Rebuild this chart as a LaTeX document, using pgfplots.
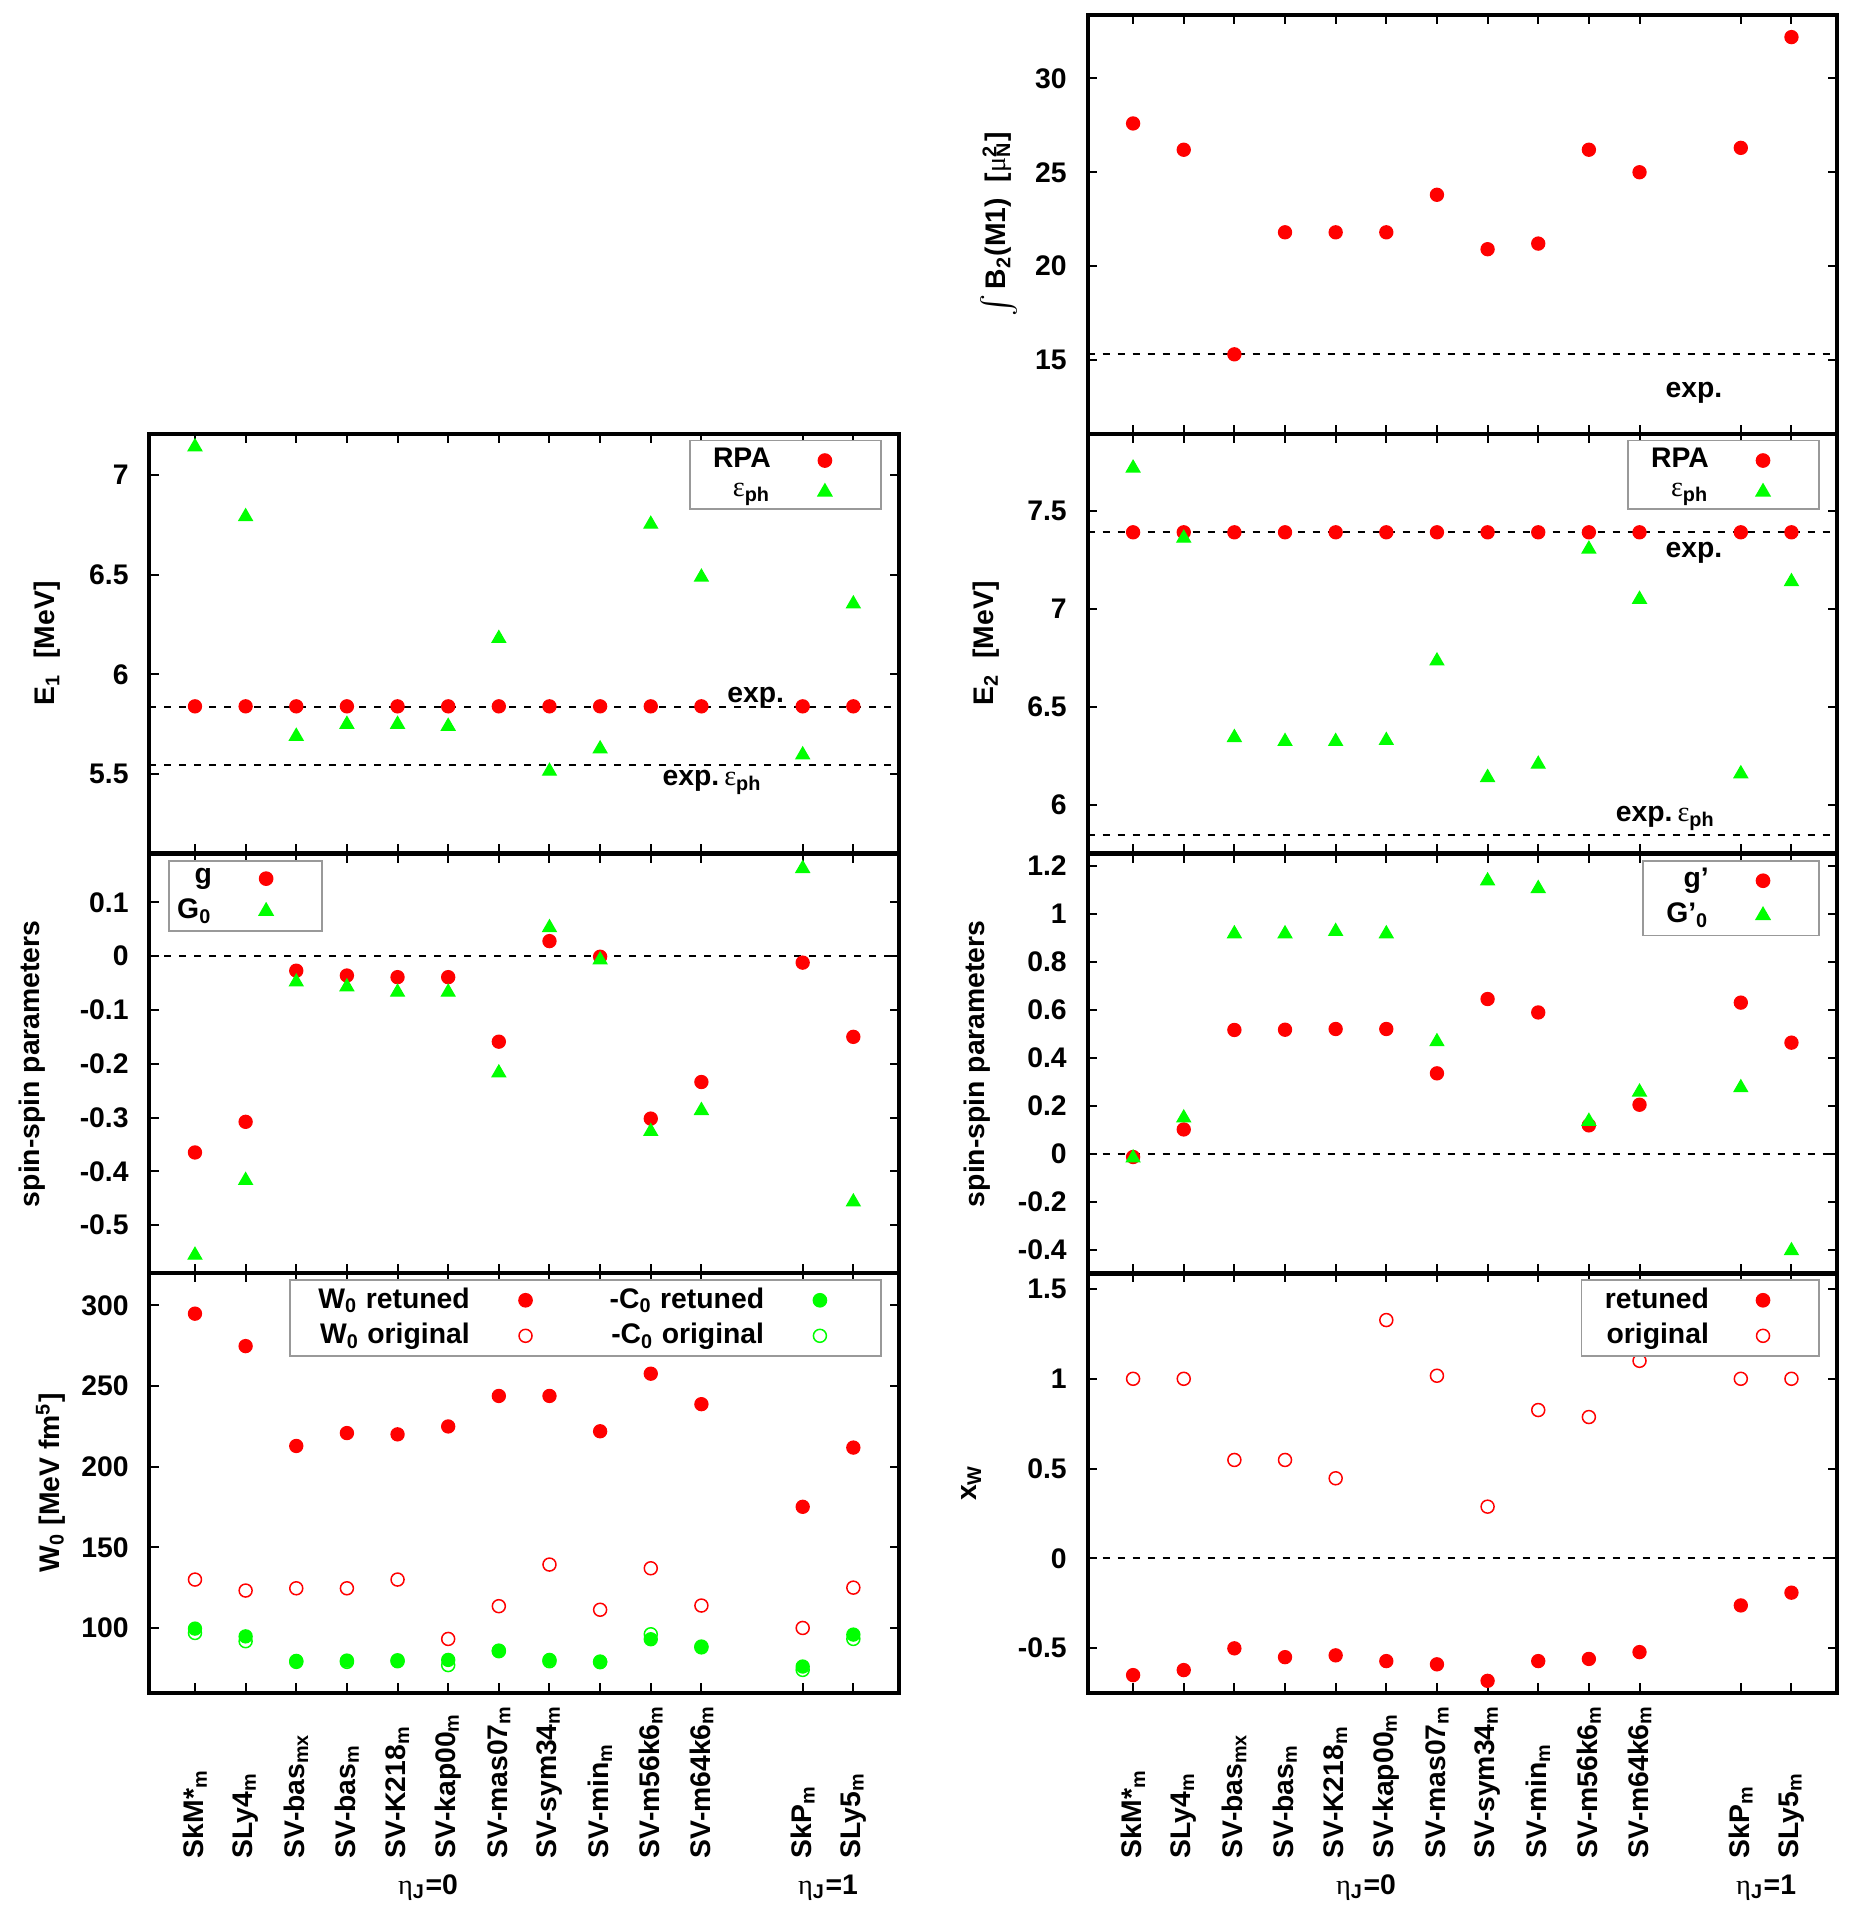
\documentclass[border=0pt]{standalone}
\usepackage{pgfplots}
\pgfplotsset{compat=1.18}
\usepackage{fontspec}
\setmainfont{Liberation Sans}
\newfontfamily\grk{Liberation Serif}
\definecolor{rr}{RGB}{255,0,0}
\definecolor{gg}{RGB}{0,255,0}
\newcommand\fs{\fontsize{8.5}{10}\selectfont\bfseries}
\newcommand\tl[2]{\mbox{#1\textsubscript{#2}}}
\newcommand\eps{{\grk\mdseries ε}\textsubscript{ph}}
\tikzset{lbl/.style={anchor=base west, font=\fs, inner sep=0pt}}
\pgfplotsset{
  panel/.style={
    scale only axis, width=224.85pt, height=125.85pt,
    anchor=north west,
    xmin=0.1, xmax=14.9,
    xtick={1,2,3,4,5,6,7,8,9,10,11,13,14},
    xticklabels={},
    tick align=inside,
    major tick length=2.8pt,
    axis line style={line width=1.2pt},
    tick style={black, line width=0.6pt},
    yticklabel pos=left, xticklabel pos=lower,
    ytick pos=both, xtick pos=both,
    tick label style={font=\fs},
    yticklabel style={xshift=-2.7pt},
    /pgf/number format/assume math mode=true,
    clip=false,
    legend plot pos=right,
    legend cell align=right,
    legend style={draw=gray!80, line width=0.5pt, font=\fs, inner xsep=5pt, inner ysep=0.3pt, row sep=-1pt,
      /tikz/every odd column/.append style={column sep=5.5pt}},
  },
  ylab/.style={every axis y label/.style={at={(axis description cs:#1,0.5)}, rotate=90, anchor=center, font=\fs}},
  bottom/.style={
    xticklabels={\tl{SkM*}{m},\tl{SLy4}{m},\tl{SV-bas}{mx},\tl{SV-bas}{m},\tl{SV-K218}{m},\tl{SV-kap00}{m},\tl{SV-mas07}{m},\tl{SV-sym34}{m},\tl{SV-min}{m},\tl{SV-m56k6}{m},\tl{SV-m64k6}{m},\tl{SkP}{m},\tl{SLy5}{m}},
    xticklabel style={rotate=90, anchor=east, text width=49.5pt, align=left, inner sep=0pt},
  },
  mkleg/.style={legend image code/.code={\draw[##1] plot coordinates {(8.5pt,0pt)}; \path (0pt,0pt) (20pt,0pt);}},
  mklegw/.style={legend image code/.code={\draw[##1] plot coordinates {(8.5pt,0pt)}; \path (0pt,0pt) (24.5pt,0pt);}},
  rpa/.style={only marks, mark=*, mark size=1.95pt, color=rr, mkleg},
  tri/.style={only marks, mark=triangle*, mark size=2.3pt, color=gg, mkleg},
  gfill/.style={only marks, mark=*, mark size=1.95pt, color=gg, mkleg},
  ropen/.style={only marks, mark=o, mark size=1.95pt, color=rr, mark options={line width=0.45pt}, mkleg},
  gopen/.style={only marks, mark=o, mark size=1.95pt, color=gg, mark options={line width=0.45pt}, mkleg},
  expl/.style={black, line width=0.6pt, dash pattern=on 2.1pt off 2.4pt, forget plot},
  legNE/.style={legend style={at={(axis description cs:1,1)}, anchor=north east, xshift=-5.2pt, yshift=-1.8pt}},
}
\begin{document}
\begin{tikzpicture}
\path[use as bounding box] (0pt,0pt) rectangle (557.7pt,-571.5pt);

% ---------- B2 (top right)
\begin{axis}[panel, at={(326.25pt,-4.38pt)}, ymin=11.05, ymax=33.4, ytick={15,20,25,30},
  ylab=-0.118, ylabel={$\int$\,B\textsubscript{2}(M1)\ \ [{\grk\mdseries μ}\rlap{\textsuperscript{2}}\textsubscript{N}]}]
\addplot[rpa] coordinates {(1,27.6)(2,26.2)(3,15.3)(4,21.8)(5,21.8)(6,21.8)(7,23.8)(8,20.9)(9,21.2)(10,26.2)(11,25.0)(13,26.3)(14,32.2)};
\addplot[expl] coordinates {(0.1,15.33)(14.9,15.33)};
\node[lbl] at (axis cs:11.5,13.0) {exp.};
\end{axis}

% ---------- E1 (left)
\begin{axis}[panel, legNE, at={(44.82pt,-130.14pt)}, ymin=5.104, ymax=7.205, ytick={5.5,6,6.5,7},
  ylab=-0.136, ylabel={E\textsubscript{1}\ \ [MeV]}]
\addplot[rpa] coordinates {(1,5.84)(2,5.84)(3,5.84)(4,5.84)(5,5.84)(6,5.84)(7,5.84)(8,5.84)(9,5.84)(10,5.84)(11,5.84)(13,5.84)(14,5.84)};
\addlegendentry{RPA}
\addplot[tri] coordinates {(1,7.14)(2,6.79)(3,5.69)(4,5.75)(5,5.75)(6,5.74)(7,6.18)(8,5.515)(9,5.627)(10,6.752)(11,6.487)(13,5.597)(14,6.353)};
\addlegendentry{\eps}
\addplot[expl] coordinates {(0.1,5.838)(14.9,5.838)};
\addplot[expl] coordinates {(0.1,5.548)(14.9,5.548)};
\node[lbl] at (axis cs:11.5,5.86) {exp.};
\node[lbl] at (axis cs:10.22,5.443) {exp.\hspace{1.5pt}\eps};
\end{axis}

% ---------- E2 (right)
\begin{axis}[panel, legNE, at={(326.25pt,-130.14pt)}, ymin=5.751, ymax=7.893, ytick={6,6.5,7,7.5},
  ylab=-0.1357, ylabel={E\textsubscript{2}\ \ [MeV]}]
\addplot[rpa] coordinates {(1,7.39)(2,7.39)(3,7.39)(4,7.39)(5,7.39)(6,7.39)(7,7.39)(8,7.39)(9,7.39)(10,7.39)(11,7.39)(13,7.39)(14,7.39)};
\addlegendentry{RPA}
\addplot[tri] coordinates {(1,7.718)(2,7.36)(3,6.342)(4,6.322)(5,6.322)(6,6.327)(7,6.733)(8,6.138)(9,6.206)(10,7.304)(11,7.048)(13,6.157)(14,7.138)};
\addlegendentry{\eps}
\addplot[expl] coordinates {(0.1,7.39)(14.9,7.39)};
\addplot[expl] coordinates {(0.1,5.845)(14.9,5.845)};
\node[lbl] at (axis cs:11.5,7.262) {exp.};
\node[lbl] at (axis cs:10.52,5.913) {exp.\hspace{1.5pt}\eps};
\end{axis}

% ---------- spin-spin left
\begin{axis}[panel, at={(44.82pt,-256.2pt)}, ymin=-0.59, ymax=0.19, ytick={-0.5,-0.4,-0.3,-0.2,-0.1,0,0.1},
  ylab=-0.157, ylabel={spin-spin parameters},
  legend style={at={(axis description cs:0,1)}, anchor=north west, xshift=5.6pt, yshift=-1.8pt, inner xsep=0.5pt}]
\addplot[rpa, mklegw] coordinates {(1,-0.365)(2,-0.308)(3,-0.027)(4,-0.036)(5,-0.039)(6,-0.039)(7,-0.159)(8,0.028)(9,-0.001)(10,-0.302)(11,-0.234)(13,-0.012)(14,-0.150)};
\addlegendentry{g}
\addplot[tri, mklegw] coordinates {(1,-0.556)(2,-0.417)(3,-0.048)(4,-0.057)(5,-0.067)(6,-0.067)(7,-0.217)(8,0.053)(9,-0.007)(10,-0.326)(11,-0.287)(13,0.163)(14,-0.457)};
\addlegendentry{G\textsubscript{0}}
\addplot[expl] coordinates {(0.1,0)(14.9,0)};
\end{axis}

% ---------- spin-spin right
\begin{axis}[panel, legNE, at={(326.25pt,-256.2pt)}, ymin=-0.5, ymax=1.25, ytick={-0.4,-0.2,0,0.2,0.4,0.6,0.8,1,1.2},
  ylab=-0.147, ylabel={spin-spin parameters}]
\addplot[rpa] coordinates {(1,-0.014)(2,0.101)(3,0.516)(4,0.517)(5,0.520)(6,0.520)(7,0.335)(8,0.645)(9,0.589)(10,0.118)(11,0.204)(13,0.630)(14,0.463)};
\addlegendentry{g'}
\addplot[tri] coordinates {(1,-0.018)(2,0.149)(3,0.917)(4,0.917)(5,0.927)(6,0.917)(7,0.467)(8,1.138)(9,1.106)(10,0.135)(11,0.257)(13,0.275)(14,-0.405)};
\addlegendentry{G'\textsubscript{0}}
\addplot[expl] coordinates {(0.1,0)(14.9,0)};
\end{axis}

% ---------- W0 (bottom left)
\begin{axis}[panel, bottom, legNE, at={(44.82pt,-381.9pt)}, ymin=60, ymax=320, ytick={100,150,200,250,300},
  ylab=-0.132, ylabel={W\textsubscript{0} [MeV fm\textsuperscript{5}]},
  legend columns=2,
  legend style={inner xsep=6.5pt, /tikz/every odd column/.append style={column sep=6pt}, /tikz/every even column/.append style={column sep=11.5pt}}]
\addplot[rpa] coordinates {(1,294.8)(2,274.7)(3,212.8)(4,220.8)(5,220.0)(6,224.9)(7,243.8)(8,243.8)(9,221.9)(10,257.6)(11,238.7)(13,175.1)(14,211.8)};
\addlegendentry{W\textsubscript{0} retuned}
\addplot[gfill] coordinates {(1,99.6)(2,94.8)(3,79.6)(4,79.8)(5,80.0)(6,80.2)(7,86.0)(8,80.2)(9,79.2)(10,93.0)(11,88.5)(13,76.1)(14,95.9)};
\addlegendentry{-C\textsubscript{0} retuned}
\addplot[ropen] coordinates {(1,130.0)(2,123.2)(3,124.6)(4,124.6)(5,130.0)(6,93.2)(7,113.5)(8,139.3)(9,111.3)(10,137.0)(11,113.9)(13,100.0)(14,125.0)};
\addlegendentry{W\textsubscript{0} original}
\addplot[gopen] coordinates {(1,96.9)(2,91.8)(3,79.0)(4,79.0)(5,79.4)(6,77.0)(7,85.6)(8,79.4)(9,78.8)(10,96.1)(11,88.0)(13,74.0)(14,93.2)};
\addlegendentry{-C\textsubscript{0} original}
\node[font=\fs, anchor=base] at (axis cs:5.6,60) [yshift=-60.45pt] {{\grk\mdseries η}\textsubscript{J}=0};
\node[font=\fs, anchor=base] at (axis cs:13.5,60) [yshift=-60.45pt] {{\grk\mdseries η}\textsubscript{J}=1};
\end{axis}

% ---------- xW (bottom right)
\begin{axis}[panel, bottom, legNE, at={(326.25pt,-381.9pt)}, ymin=-0.747, ymax=1.589, ytick={-0.5,0,0.5,1,1.5},
  ylab=-0.155, ylabel={x\textsubscript{W}}]
\addplot[rpa] coordinates {(1,-0.650)(2,-0.622)(3,-0.501)(4,-0.550)(5,-0.540)(6,-0.572)(7,-0.590)(8,-0.682)(9,-0.572)(10,-0.560)(11,-0.522)(13,-0.262)(14,-0.191)};
\addlegendentry{retuned}
\addplot[ropen] coordinates {(1,1.0)(2,1.0)(3,0.548)(4,0.548)(5,0.446)(6,1.327)(7,1.017)(8,0.288)(9,0.826)(10,0.787)(11,1.10)(13,1.0)(14,1.0)};
\addlegendentry{original}
\addplot[expl] coordinates {(0.1,0)(14.9,0)};
\node[font=\fs, anchor=base] at (axis cs:5.6,-0.747) [yshift=-60.45pt] {{\grk\mdseries η}\textsubscript{J}=0};
\node[font=\fs, anchor=base] at (axis cs:13.5,-0.747) [yshift=-60.45pt] {{\grk\mdseries η}\textsubscript{J}=1};
\end{axis}
\end{tikzpicture}
\end{document}
